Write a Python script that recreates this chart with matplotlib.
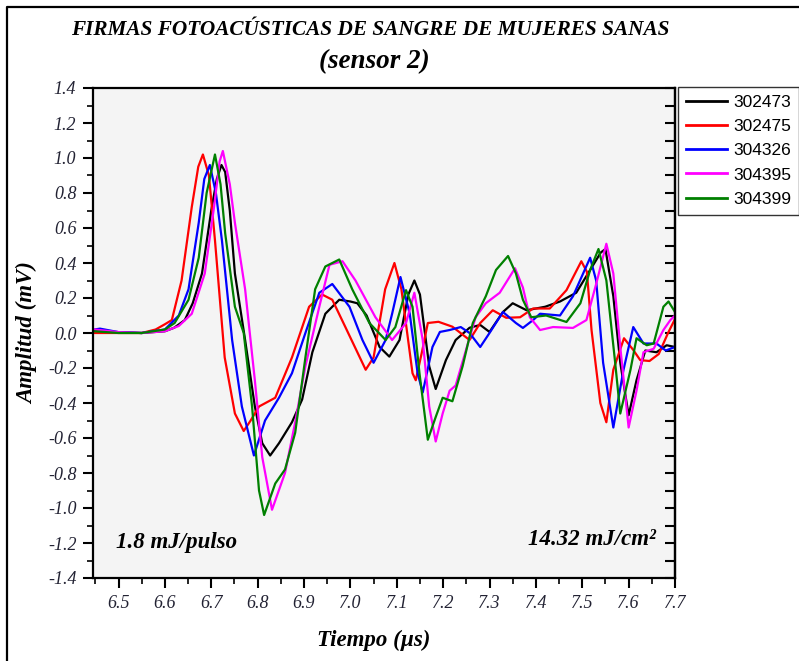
import matplotlib.pyplot as plt
from matplotlib.lines import Line2D
from matplotlib.ticker import MultipleLocator

# Tiempo (us) y amplitud (mV)
t_302473 = [6.448, 6.50, 6.55, 6.60, 6.62, 6.643, 6.66, 6.68, 6.70, 6.712, 6.722, 6.73, 6.74,
            6.751, 6.773, 6.794, 6.81, 6.827, 6.846, 6.874, 6.896, 6.918, 6.946, 6.976, 7.00,
            7.015, 7.035, 7.063, 7.084, 7.106, 7.125, 7.138, 7.15, 7.17, 7.184, 7.206, 7.227,
            7.257, 7.28, 7.30, 7.329, 7.35, 7.38, 7.42, 7.452, 7.487, 7.517, 7.54, 7.55, 7.567,
            7.582, 7.60, 7.617, 7.636, 7.66, 7.682, 7.70]
a_302473 = [0.01, 0.005, 0.0, 0.01, 0.03, 0.074, 0.17, 0.34, 0.70, 0.88, 0.96, 0.92, 0.70,
            0.34, -0.04, -0.42, -0.63, -0.70, -0.63, -0.51, -0.38, -0.11, 0.11, 0.19, 0.18,
            0.17, 0.10, -0.08, -0.135, -0.04, 0.22, 0.30, 0.22, -0.19, -0.32, -0.155, -0.04,
            0.03, 0.046, 0.006, 0.12, 0.17, 0.13, 0.15, 0.18, 0.23, 0.36, 0.46, 0.48, 0.21,
            -0.17, -0.47, -0.27, -0.10, -0.11, -0.07, -0.08]

t_302475 = [6.448, 6.50, 6.55, 6.58, 6.60, 6.615, 6.636, 6.658, 6.672, 6.682, 6.695, 6.708,
            6.729, 6.751, 6.77, 6.785, 6.803, 6.838, 6.874, 6.911, 6.939, 6.961, 6.989, 7.033,
            7.05, 7.075, 7.095, 7.11, 7.134, 7.141, 7.155, 7.167, 7.19, 7.22, 7.257, 7.28,
            7.307, 7.336, 7.366, 7.394, 7.43, 7.466, 7.498, 7.51, 7.52, 7.539, 7.552, 7.567,
            7.59, 7.61, 7.625, 7.645, 7.665, 7.685, 7.70]
a_302475 = [0.0, 0.0, 0.0, 0.02, 0.05, 0.074, 0.30, 0.72, 0.95, 1.02, 0.90, 0.53,
            -0.14, -0.46, -0.56, -0.50, -0.42, -0.37, -0.14, 0.15, 0.22, 0.19, 0.035, -0.21,
            -0.14, 0.25, 0.40, 0.25, -0.23, -0.27, -0.10, 0.057, 0.064, 0.036, -0.04, 0.057,
            0.13, 0.087, 0.09, 0.14, 0.14, 0.245, 0.41, 0.35, 0.017, -0.40, -0.51, -0.21,
            -0.03, -0.097, -0.155, -0.16, -0.12, 0.0, 0.08]

t_304326 = [6.448, 6.46, 6.50, 6.55, 6.60, 6.63, 6.651, 6.673, 6.685, 6.697, 6.71, 6.723,
            6.745, 6.766, 6.792, 6.816, 6.846, 6.874, 6.903, 6.933, 6.961, 6.998, 7.026, 7.05,
            7.076, 7.09, 7.108, 7.128, 7.145, 7.156, 7.177, 7.193, 7.214, 7.238, 7.257, 7.28,
            7.30, 7.329, 7.357, 7.372, 7.394, 7.409, 7.452, 7.48, 7.517, 7.53, 7.545, 7.567,
            7.589, 7.61, 7.632, 7.66, 7.68, 7.70]
a_304326 = [0.02, 0.025, 0.005, 0.0, 0.02, 0.10, 0.25, 0.63, 0.88, 0.96, 0.80, 0.53,
            -0.04, -0.42, -0.70, -0.50, -0.37, -0.23, 0.0, 0.23, 0.28, 0.15, -0.04, -0.17,
            -0.04, 0.11, 0.32, 0.11, -0.23, -0.34, -0.08, 0.006, 0.017, 0.034, 0.0, -0.08,
            0.0, 0.12, 0.057, 0.029, 0.074, 0.11, 0.10, 0.21, 0.43, 0.30, -0.17, -0.54,
            -0.21, 0.034, -0.06, -0.06, -0.10, -0.08]

t_304395 = [6.448, 6.50, 6.55, 6.60, 6.63, 6.658, 6.686, 6.706, 6.718, 6.725, 6.74, 6.751,
            6.773, 6.794, 6.81, 6.831, 6.859, 6.881, 6.903, 6.933, 6.955, 6.983, 7.011, 7.054,
            7.09, 7.12, 7.138, 7.156, 7.17, 7.184, 7.199, 7.214, 7.227, 7.249, 7.27, 7.292,
            7.322, 7.355, 7.372, 7.387, 7.409, 7.437, 7.48, 7.509, 7.53, 7.552, 7.567, 7.582,
            7.60, 7.617, 7.632, 7.654, 7.675, 7.69, 7.70]
a_304395 = [0.02, 0.005, 0.0, 0.01, 0.04, 0.11, 0.34, 0.72, 0.98, 1.04, 0.85, 0.63,
            0.25, -0.27, -0.71, -1.01, -0.80, -0.51, -0.19, 0.15, 0.39, 0.41, 0.30, 0.09,
            -0.04, 0.057, 0.23, -0.04, -0.42, -0.62, -0.46, -0.33, -0.30, -0.10, 0.09, 0.17,
            0.23, 0.37, 0.26, 0.09, 0.017, 0.034, 0.029, 0.074, 0.28, 0.51, 0.34, -0.08,
            -0.54, -0.33, -0.11, -0.09, 0.017, 0.074, 0.10]

t_304399 = [6.448, 6.50, 6.55, 6.60, 6.621, 6.651, 6.673, 6.69, 6.708, 6.72, 6.73, 6.751,
            6.77, 6.788, 6.803, 6.814, 6.838, 6.859, 6.881, 6.903, 6.924, 6.946, 6.976, 7.004,
            7.041, 7.076, 7.097, 7.12, 7.134, 7.149, 7.167, 7.184, 7.199, 7.22, 7.242, 7.264,
            7.292, 7.314, 7.34, 7.357, 7.372, 7.39, 7.422, 7.466, 7.496, 7.517, 7.535, 7.552,
            7.571, 7.582, 7.604, 7.617, 7.639, 7.654, 7.675, 7.686, 7.70]
a_304399 = [0.01, 0.0, 0.0, 0.02, 0.057, 0.19, 0.43, 0.80, 1.02, 0.85, 0.57, 0.15,
            0.0, -0.42, -0.90, -1.04, -0.86, -0.78, -0.57, -0.14, 0.25, 0.38, 0.42, 0.25,
            0.057, -0.04, 0.034, 0.245, 0.15, -0.23, -0.61, -0.48, -0.37, -0.39, -0.19, 0.057,
            0.21, 0.36, 0.44, 0.34, 0.19, 0.09, 0.10, 0.063, 0.17, 0.36, 0.48, 0.30,
            -0.17, -0.46, -0.21, -0.03, -0.07, -0.06, 0.15, 0.18, 0.12]

series = [("302473", t_302473, a_302473, "black"),
          ("302475", t_302475, a_302475, "#ff0000"),
          ("304326", t_304326, a_304326, "#0000ff"),
          ("304395", t_304395, a_304395, "#ff00ff"),
          ("304399", t_304399, a_304399, "#008000")]

serif = "Liberation Serif"

fig = plt.figure(figsize=(7.99, 6.61), dpi=100)
ax = fig.add_axes([93/799, 1 - 578/661, 582/799, 490/661])
ax.set_facecolor("#f4f4f4")

for nom, t, a, c in series:
    ax.plot(t, a, color=c, lw=1.6, label=nom, solid_joinstyle="round")

ax.set_xlim(6.445, 7.7)
ax.set_ylim(-1.4, 1.4)
ax.xaxis.set_major_locator(MultipleLocator(0.1))
ax.xaxis.set_minor_locator(MultipleLocator(0.05))
ax.yaxis.set_major_locator(MultipleLocator(0.2))
ax.yaxis.set_minor_locator(MultipleLocator(0.1))
ax.xaxis.set_major_formatter(lambda v, p: f"{v:.1f}")
ax.yaxis.set_major_formatter(lambda v, p: f"{v:.1f}")
ax.tick_params(which="major", direction="out", length=7, width=1.5, pad=5)
ax.tick_params(which="minor", direction="out", length=4, width=1.2)
for lab in ax.get_xticklabels() + ax.get_yticklabels():
    lab.set_fontfamily(serif)
    lab.set_fontstyle("italic")
    lab.set_fontsize(13)
    lab.set_color("#222233")
for s in ax.spines.values():
    s.set_linewidth(1.6)

# ticks hacia dentro en el lado derecho
sec = ax.secondary_yaxis("right")
sec.yaxis.set_major_locator(MultipleLocator(0.1))
sec.tick_params(direction="in", length=7, width=1.5, labelright=False)
sec.spines["right"].set_linewidth(1.6)

ax.text(0.04, 0.072, "1.8 mJ/pulso", transform=ax.transAxes, fontfamily=serif,
        fontsize=16.5, fontweight="bold", fontstyle="italic", va="center")
ax.text(0.967, 0.078, "14.32 mJ/cm²", transform=ax.transAxes, fontfamily=serif,
        fontsize=16.5, fontweight="bold", fontstyle="italic", va="center", ha="right")

fig.text(370/799, 1 - 30/661, "FIRMAS FOTOACÚSTICAS DE SANGRE DE MUJERES SANAS",
         fontfamily=serif, fontsize=15.3, fontweight="bold", fontstyle="italic",
         ha="center", va="center")
fig.text(374/799, 1 - 62/661, "(sensor 2)", fontfamily=serif, fontsize=19.5,
         fontweight="bold", fontstyle="italic", ha="center", va="center")
fig.text(374/799, 1 - 640/661, "Tiempo (µs)", fontfamily=serif, fontsize=16.5,
         fontweight="bold", fontstyle="italic", ha="center", va="center")
fig.text(28/799, 1 - 333/661, "Amplitud (mV)", fontfamily=serif, fontsize=16.5,
         fontweight="bold", fontstyle="italic", ha="center", va="center", rotation=90)

leg = ax.legend(loc="upper left", bbox_to_anchor=(678/799, 1 - 87/661),
                bbox_transform=fig.transFigure, borderaxespad=0, fancybox=False,
                framealpha=1, edgecolor="#333333", handlelength=2.4, labelspacing=0.52,
                handletextpad=0.35, borderpad=0.45,
                prop={"family": "Liberation Sans", "size": 12.5})
leg.get_frame().set_linewidth(1.0)
for h in leg.get_lines():
    h.set_linewidth(2)

# marco de la figura
fig.add_artist(Line2D([7/799, 7/799, 1], [0, 1 - 7/661, 1 - 7/661],
                      transform=fig.transFigure, color="black", lw=1.6))

fig.savefig("out.png", dpi=100)
